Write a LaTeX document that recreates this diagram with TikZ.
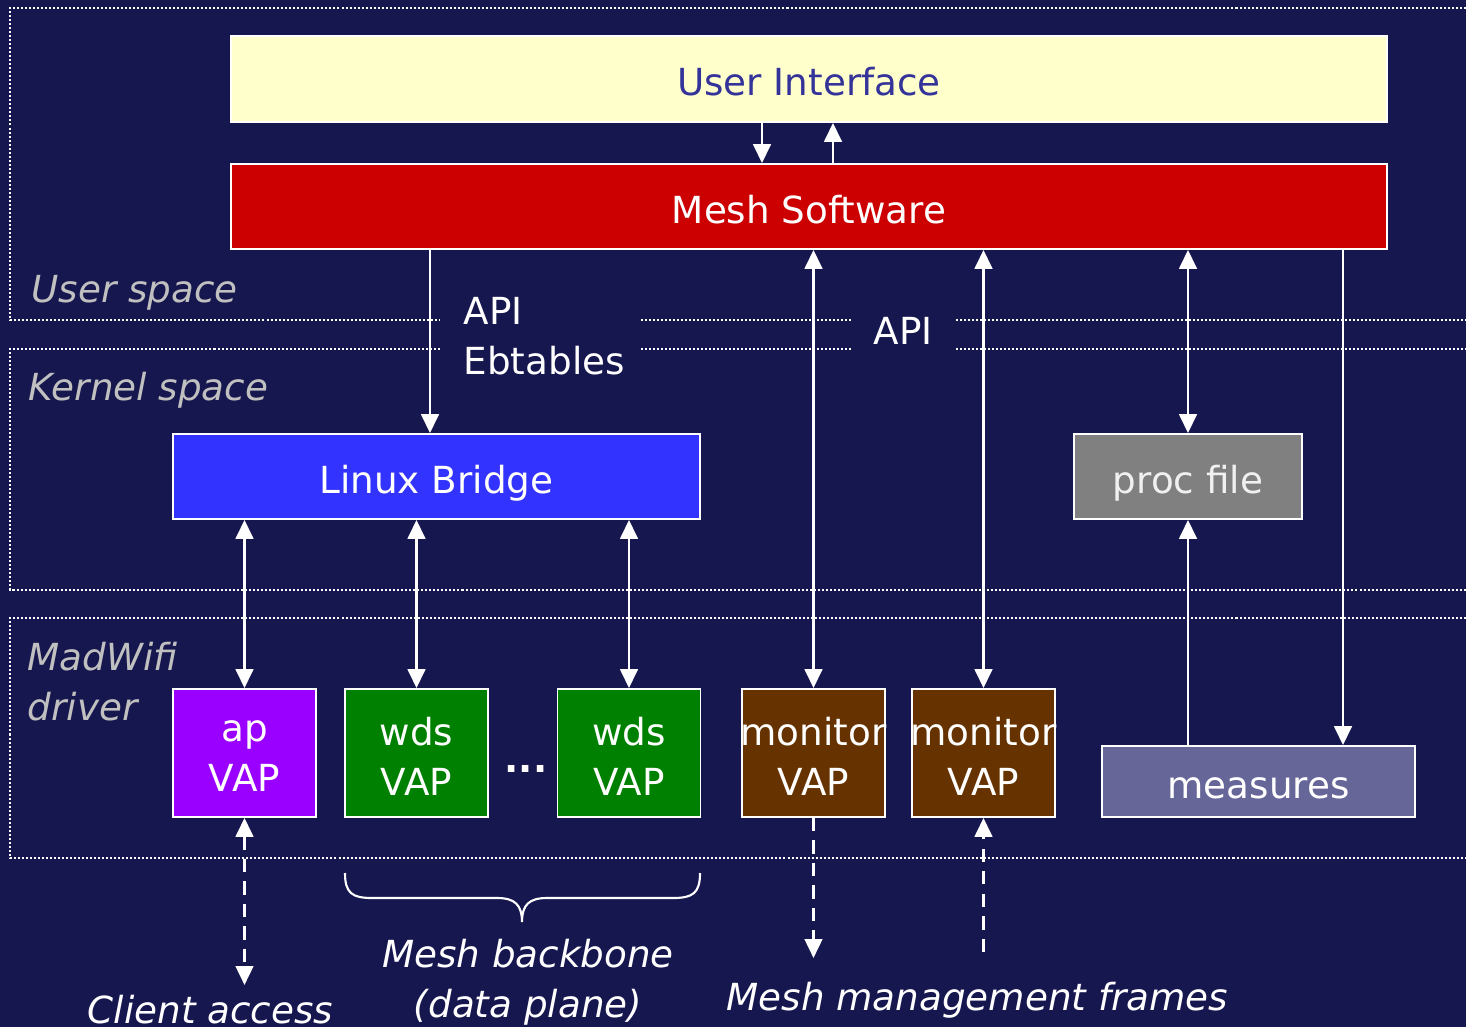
\documentclass[tikz,border=0pt]{standalone}
\usepackage{fontspec}
\setmainfont{DejaVu Sans}
\usetikzlibrary{arrows.meta}

\definecolor{bg}{RGB}{23,23,80}
\definecolor{uiyellow}{RGB}{255,255,204}
\definecolor{uitext}{RGB}{51,51,153}
\definecolor{meshred}{RGB}{204,0,0}
\definecolor{bridgeblue}{RGB}{51,51,255}
\definecolor{procgray}{RGB}{128,128,128}
\definecolor{procwhite}{RGB}{240,240,240}
\definecolor{appurple}{RGB}{153,0,255}
\definecolor{wdsgreen}{RGB}{0,128,0}
\definecolor{monbrown}{RGB}{102,51,0}
\definecolor{measblue}{RGB}{102,102,153}
\definecolor{labelgray}{RGB}{192,192,192}

\newcommand\mainsize{\fontsize{10.6}{14.2}\selectfont}

\tikzset{
  box/.style={draw=white, line width=0.5pt, inner sep=0pt, minimum height=0.85cm,
              text=white, font=\mainsize, text height=0.95em, text depth=0pt},
  vap/.style={draw=white, line width=0.5pt, inner sep=0pt, minimum width=1.43cm,
              minimum height=1.28cm},
  vaptext/.style={inner sep=0pt, text=white, font=\mainsize, align=center, yshift=-0.035cm},
  arr/.style={draw=white, line width=0.8pt, -{Triangle[length=5.4pt,width=5pt]}},
  biarr/.style={draw=white, line width=0.8pt,
                {Triangle[length=5.4pt,width=5pt]}-{Triangle[length=5.4pt,width=5pt]}},
  darr/.style={arr, dash pattern=on 3.8pt off 2.6pt},
  dbiarr/.style={biarr, dash pattern=on 3.8pt off 2.6pt},
  zone/.style={draw=white, line width=0.6pt, dash pattern=on 0.57pt off 0.57pt},
  zonelabel/.style={inner sep=0pt, text=labelgray, font=\mainsize\itshape},
  plainlbl/.style={inner sep=0pt, text=white, font=\mainsize},
  italiclbl/.style={inner sep=0pt, text=white, font=\mainsize\itshape},
  bracepath/.style={draw=white, line width=0.6pt},
}

\begin{document}
\begin{tikzpicture}[x=0.01cm,y=-0.01cm]
\fill[bg] (0,0) rectangle (1466,1027);
\useasboundingbox (0,0) rectangle (1466,1027);

% dotted zone frames (open to the right)
\draw[zone] (1466,8) -- (10,8) -- (10,320) -- (440,320);
\draw[zone] (641,320) -- (852,320) (956,320) -- (1466,320);
\draw[zone] (440,349) -- (10,349) -- (10,590) -- (1466,590);
\draw[zone] (641,349) -- (852,349) (956,349) -- (1466,349);
\draw[zone] (1466,618) -- (10,618) -- (10,858) -- (1466,858);

% zone labels (multi-line nodes sit on the baseline of their last line)
\node[zonelabel, anchor=base west] (userlbl) at (31,302) {User space};
\node[zonelabel, anchor=base west] (kernlbl) at (28,400) {Kernel space};
\node[zonelabel, anchor=base west, align=left] (madlbl) at (27,720) {MadWifi\\driver};

% software blocks
\node[box, fill=uiyellow, text=uitext, minimum width=11.56cm, minimum height=0.86cm] (ui) at (809,79) {User Interface};
\node[box, fill=meshred, minimum width=11.56cm] (ms) at (809,206.5) {Mesh Software};
\node[box, fill=bridgeblue, minimum width=5.27cm] (lb) at (436.5,476.5) {Linux Bridge};
\node[box, fill=procgray, text=procwhite, minimum width=2.28cm] (proc) at (1188,476.5) {proc file};
\node[box, fill=measblue, minimum width=3.13cm, minimum height=0.71cm] (meas) at (1258.5,781.5) {measures};

% virtual access points
\node[vap, fill=appurple] (ap) at (244.5,753) {};
\node[vaptext] (apt) at (ap) {ap\\VAP};
\node[vap, fill=wdsgreen] (wdsa) at (416.5,753) {};
\node[vaptext] (wdsat) at (wdsa) {wds\\VAP};
\node[vap, fill=wdsgreen] (wdsb) at (629,753) {};
\node[vaptext] (wdsbt) at (wdsb) {wds\\VAP};
\node[vap, fill=monbrown] (mona) at (813.5,753) {};
\node[vaptext] (monat) at (mona) {monitor\\VAP};
\node[vap, fill=monbrown] (monb) at (983.5,753) {};
\node[vaptext] (monbt) at (monb) {monitor\\VAP};
\node[plainlbl, font=\mainsize\bfseries, anchor=base] (ellipsis) at (526,772) {...};

% API labels
\node[plainlbl, anchor=base west, align=left] (apilbl) at (463,374) {API\\Ebtables};
\node[plainlbl, anchor=base west] (apilblb) at (873,344) {API};

% helper columns
\coordinate (xa) at (762,0);
\coordinate (xb) at (833,0);
\coordinate (xc) at (430,0);
\coordinate (xd) at (1343,0);

% control connectors
\draw[arr] (ui.south -| xa) -- (ms.north -| xa);
\draw[arr] (ms.north -| xb) -- (ui.south -| xb);
\draw[arr] (ms.south -| xc) -- (lb.north -| xc);
\draw[biarr] (ms.south -| mona) -- (mona.north);
\draw[biarr] (ms.south -| monb) -- (monb.north);
\draw[biarr] (ms.south -| proc) -- (proc.north);
\draw[arr] (ms.south -| xd) -- (meas.north -| xd);
\draw[arr] (meas.north -| proc) -- (proc.south);
\draw[biarr] (lb.south -| ap) -- (ap.north);
\draw[biarr] (lb.south -| wdsa) -- (wdsa.north);
\draw[biarr] (lb.south -| wdsb) -- (wdsb.north);

% wireless side
\coordinate (client) at (246,985);
\coordinate (mgmtout) at (813,958);
\coordinate (mgmtin) at (983,952);
\draw[dbiarr] (ap.south) -- (ap.south |- client);
\draw[darr] (mona.south) -- (mona.south |- mgmtout);
\draw[darr] (monb.south |- mgmtin) -- (monb.south);

% brace under the wds group
\draw[bracepath] (345,873) .. controls (345,893) and (352,898) .. (372,898)
  -- (497,898) .. controls (515,898) and (522,905) .. (522,922)
  .. controls (522,905) and (529,898) .. (547,898)
  -- (673,898) .. controls (693,898) and (700,893) .. (700,873);

% bottom captions
\node[italiclbl, anchor=base west] (clientlbl) at (87,1023) {Client access};
\node[italiclbl, anchor=base, align=center] (backbone) at (528,1017) {Mesh backbone\\(data plane)};
\node[italiclbl, anchor=base west] (mgmt) at (726,1010) {Mesh management frames};
\end{tikzpicture}
\end{document}
